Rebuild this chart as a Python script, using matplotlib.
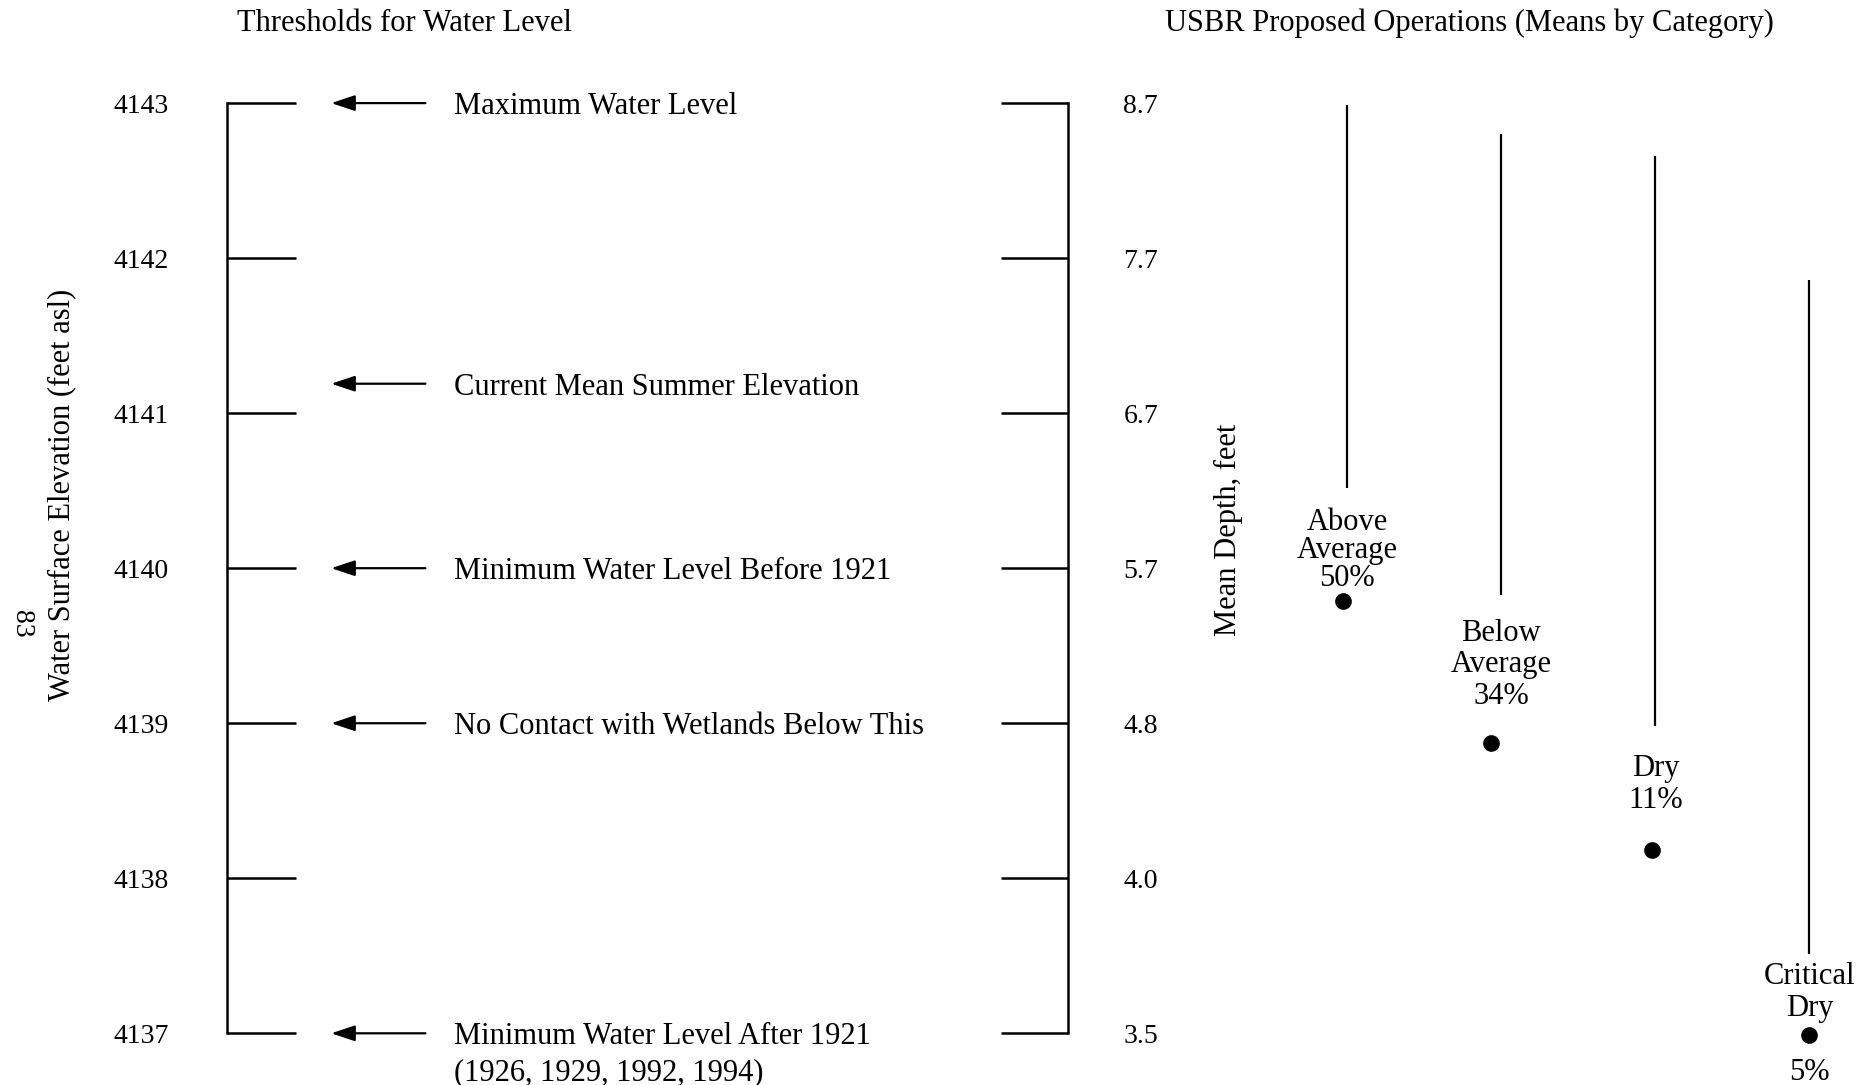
import matplotlib
matplotlib.use("Agg")
import matplotlib.pyplot as plt
import numpy as np

plt.rcParams['font.family'] = ['Liberation Serif', 'DejaVu Serif']

# ---------------- data ----------------
elev_ticks = [4137, 4138, 4139, 4140, 4141, 4142, 4143]
depth_labels = ["3.5", "4.0", "4.8", "5.7", "6.7", "7.7", "8.7"]

threshold_elev = [4143.0, 4141.19, 4140.0, 4139.0, 4137.0]
threshold_labels = [
    "Maximum Water Level",
    "Current Mean Summer Elevation",
    "Minimum Water Level Before 1921",
    "No Contact with Wetlands Below This",
    "Minimum Water Level After 1921\n(1926, 1929, 1992, 1994)",
]

categories = ["Above\nAverage", "Below\nAverage", "Dry", "Critical\nDry"]
frequency_pct = [50, 34, 11, 5]
mean_elev = [4139.79, 4138.87, 4138.18, 4136.99]
range_top = [4142.99, 4142.80, 4142.66, 4141.86]
range_bottom = [4140.52, 4139.83, 4138.98, 4137.51]

# ---------------- figure ----------------
W, H = 1858, 1085
fig = plt.figure(figsize=(W / 100, H / 100), dpi=100)

ax_bottom = 1 - 1033.3 / H
ax_top = 1 - 103.1 / H
ax_h = ax_top - ax_bottom

ax1 = fig.add_axes([227 / W, ax_bottom, (1067.7 - 227) / W, ax_h])
ax1.set_ylim(min(elev_ticks), max(elev_ticks))
ax1.set_xlim(0, 1)
for s in ("top", "bottom"):
    ax1.spines[s].set_visible(False)
for s in ("left", "right"):
    ax1.spines[s].set_linewidth(1.8)
ax1.set_xticks([])
ax1.set_yticks(elev_ticks, labels=[str(v) for v in elev_ticks])
ax1.tick_params(axis="y", direction="in", length=49.5, width=1.8, pad=41.8,
                labelsize=20, left=True, right=False)

tw = ax1.twinx()
tw.set_ylim(ax1.get_ylim())
for s in tw.spines.values():
    s.set_visible(False)
tw.set_yticks(elev_ticks, labels=depth_labels)
tw.tick_params(axis="y", direction="in", length=48.6, width=1.8, pad=40,
               labelsize=20)

LINE_PT = 25.6
for e, lab in zip(threshold_elev, threshold_labels):
    ax1.annotate("", xy=(0.124, e), xytext=(0.236, e),
                 arrowprops=dict(arrowstyle="-|>,head_length=0.72,head_width=0.24",
                                 mutation_scale=20, lw=1.6, color="k",
                                 shrinkA=0, shrinkB=0))
    for j, line in enumerate(lab.split("\n")):
        ax1.annotate(line, xy=(0.270, e), xytext=(0, -j * LINE_PT),
                     textcoords="offset points", ha="left",
                     va="center_baseline", fontsize=22)

# right panel
ax2 = fig.add_axes([1100 / W, ax_bottom, (W - 1100) / W, ax_h])
ax2.set_ylim(ax1.get_ylim())
ax2.set_xlim(-1.605, 3.315)
ax2.axis("off")

x = np.arange(len(categories))
dot_dx = [-0.03, -0.065, -0.025, 0.0]
ax2.vlines(x, range_bottom, range_top, colors="k", lw=1.6)
ax2.plot(x + np.array(dot_dx), mean_elev, "o", ms=11, color="k", clip_on=False)

spacings = [0.97, 1.12, 1.12, 1.14]
label_dy = [-4.5, 3, 3, 1.5]
for i, (name, pct) in enumerate(zip(categories, frequency_pct)):
    ymid = (range_bottom[i] + mean_elev[i]) / 2
    if i < len(categories) - 1:
        txt = f"{name}\n{pct}%"
    else:
        txt = name
        ax2.annotate(f"{pct}%", xy=(x[i], mean_elev[i]), xytext=(0, -27),
                     textcoords="offset points", ha="center", va="center",
                     fontsize=22, annotation_clip=False)
    ax2.annotate(txt, xy=(x[i], ymid), xytext=(0, label_dy[i]),
                 textcoords="offset points", ha="center", va="center",
                 fontsize=22, linespacing=spacings[i], annotation_clip=False)

# titles and axis labels
fig.text(404 / W, 1 - 23.7 / H, "Thresholds for Water Level", ha="center",
         va="center", fontsize=22)
fig.text(1469 / W, 1 - 23.7 / H, "USBR Proposed Operations (Means by Category)",
         ha="center", va="center", fontsize=22)
fig.text(61.6 / W, 1 - 494.7 / H, "Water Surface Elevation (feet asl)",
         rotation=90, ha="center", va="center", fontsize=22)
fig.text(1228 / W, 1 - 530 / H, "Mean Depth, feet", rotation=90,
         ha="center", va="center", fontsize=22)
fig.text(22 / W, 1 - 624 / H, "83", rotation=-90, ha="center", va="center",
         fontsize=20)

fig.savefig("out.png", dpi=100)
